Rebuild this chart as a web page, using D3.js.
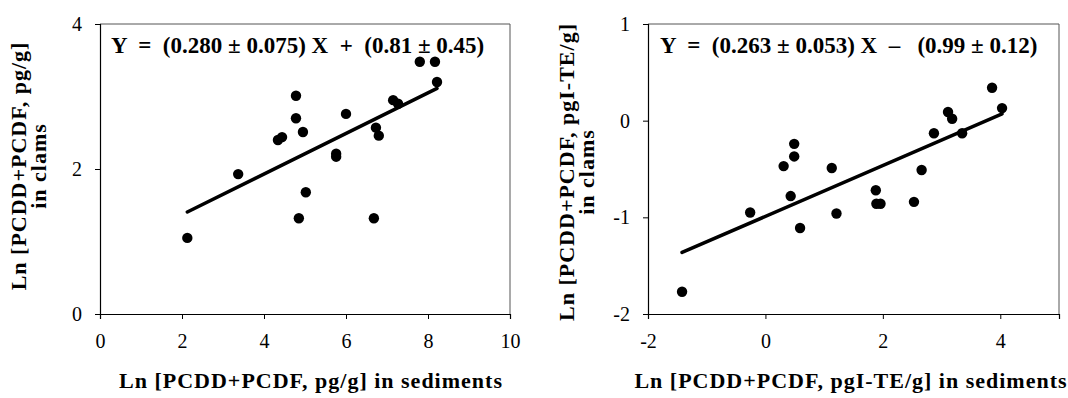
<!DOCTYPE html>
<html><head><meta charset="utf-8">
<script src="https://cdn.jsdelivr.net/npm/d3@7"></script>
<style>body{margin:0;background:#fff}svg{display:block}text{font-family:"Liberation Serif","Times New Roman",serif}</style>
</head><body><svg id="c" width="1068" height="398"></svg>
<script>
// Left panel data
const leftX = [2.13,3.37,4.34,4.44,4.78,4.78,4.95,4.85,5.02,5.76,5.76,6.0,6.73,6.80,6.68,7.15,7.27,7.80,8.17,8.22];
const leftY = [1.05,1.93,2.40,2.44,3.01,2.70,2.51,1.32,1.68,2.17,2.21,2.76,2.57,2.46,1.32,2.95,2.90,3.48,3.48,3.20];
const leftFit = [0.280, 0.81];
const leftXTicks = [0,2,4,6,8,10];
const leftYTicks = [0,2,4];
// Right panel data
const rightX = [3.86,4.03,3.11,3.18,2.87,3.35,0.49,0.49,0.31,1.13,2.66,1.88,0.43,1.89,1.96,2.53,-0.26,1.21,0.59,-1.42];
const rightY = [0.34,0.13,0.09,0.02,-0.13,-0.13,-0.24,-0.37,-0.47,-0.49,-0.51,-0.72,-0.78,-0.86,-0.86,-0.84,-0.95,-0.96,-1.11,-1.77];
const rightFit = [0.263, -0.99];
const rightXTicks = [-2,0,2,4];
const rightYTicks = [-2,-1,0,1];

const svg = d3.select("#c");
const fmt = d => String(d);

function panel(o){
  const g = svg.append("g");
  const x = d3.scaleLinear().domain(o.xd).range([o.l, o.r]);
  const y = d3.scaleLinear().domain(o.yd).range([o.b, o.t]);
  g.append("path").attr("d",`M${o.l},${o.t}H${o.r}V${o.b}`).attr("fill","none").attr("stroke","#555").attr("stroke-width",1);
  const ax = g.append("g").attr("transform",`translate(0,${o.b})`)
    .call(d3.axisBottom(x).tickValues(o.xt).tickSize(5).tickPadding(10).tickFormat(fmt));
  const ay = g.append("g").attr("transform",`translate(${o.l},0)`)
    .call(d3.axisLeft(y).tickValues(o.yt).tickSize(5).tickPadding(13).tickFormat(fmt));
  [ax,ay].forEach(a=>{
    a.attr("font-size",20).attr("font-family","Liberation Serif");
    a.select(".domain").attr("stroke","#000").attr("stroke-width",1.2);
    a.selectAll(".tick line").attr("stroke","#000");
    a.selectAll("text").attr("fill","#000");
  });
  ax.selectAll("text").attr("dy","0.95em");
  const xs = d3.extent(o.xs);
  g.append("line").attr("x1",x(xs[0])).attr("y1",y(o.fit[0]*xs[0]+o.fit[1]))
    .attr("x2",x(xs[1])).attr("y2",y(o.fit[0]*xs[1]+o.fit[1]))
    .attr("stroke","#000").attr("stroke-width",3.5).attr("stroke-linecap","round");
  g.selectAll("circle.p").data(d3.range(o.xs.length)).join("circle")
    .attr("cx",i=>x(o.xs[i])).attr("cy",i=>y(o.ys[i])).attr("r",5.2).attr("fill","#000");
  g.append("text").attr("x",o.eqx).attr("y",o.t+29).attr("font-size",23).attr("font-weight","bold")
    .style("white-space","pre").text(o.eq);
  g.append("text").attr("x",o.xtx).attr("y",388).attr("text-anchor","middle")
    .attr("font-size",22).attr("font-weight","bold").style("letter-spacing","1px").text(o.xtitle);
  const yt = g.append("text").attr("transform",`translate(${o.ytx},${o.ytc}) rotate(-90)`)
    .attr("text-anchor","middle").attr("font-size",22).attr("font-weight","bold").style("letter-spacing","1px");
  yt.append("tspan").attr("x",0).attr("dy",0).text(o.ytitle[0]);
  yt.append("tspan").attr("x",0).attr("dy",20).text(o.ytitle[1]);
}

panel({l:100,r:510,t:24,b:314,xd:[0,10],yd:[0,4],xt:leftXTicks,yt:leftYTicks,
  xs:leftX,ys:leftY,fit:leftFit,eqx:111,
  eq:"Y  =  (0.280 \u00b1 0.075) X  +  (0.81 \u00b1 0.45)",
  xtitle:"Ln [PCDD+PCDF, pg/g] in sediments", xtx:311,
  ytitle:["Ln [PCDD+PCDF, pg/g]","in clams"], ytx:26, ytc:166});
panel({l:648,r:1059,t:24,b:314,xd:[-2,5],yd:[-2,1],xt:rightXTicks,yt:rightYTicks,
  xs:rightX,ys:rightY,fit:rightFit,eqx:660,
  eq:"Y  =  (0.263 \u00b1 0.053) X  \u2013   (0.99 \u00b1 0.12)",
  xtitle:"Ln [PCDD+PCDF, pgI-TE/g] in sediments", xtx:851,
  ytitle:["Ln [PCDD+PCDF, pgI-TE/g]","in clams"], ytx:574, ytc:172});
</script></body></html>
